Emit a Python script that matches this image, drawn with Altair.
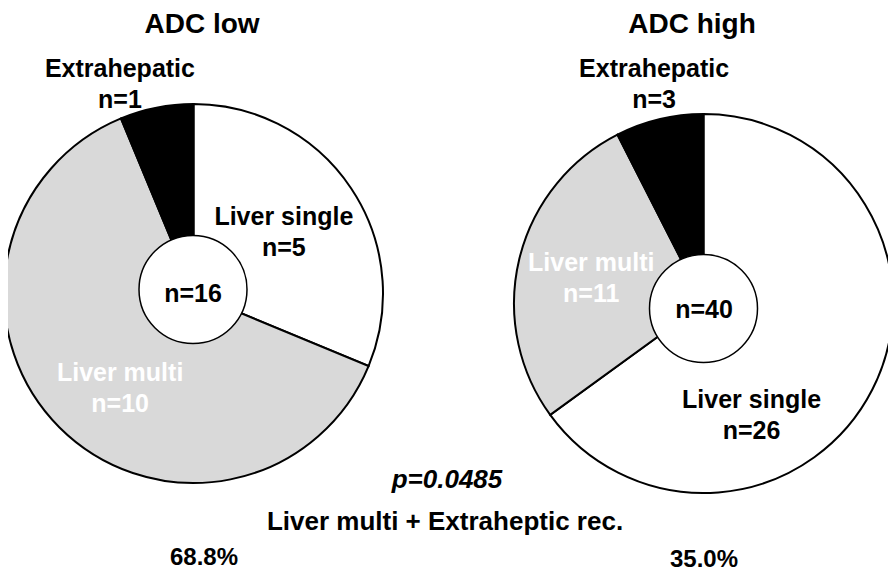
import math
import altair as alt
import pandas as pd

# ---------------- data ----------------
groups = ["ADC low", "ADC high"]
categories = ["Liver single", "Liver multi", "Extrahepatic"]
counts_low = [5, 10, 1]
counts_high = [26, 11, 3]
p_value_text = "p=0.0485"
footnote_text = "Liver multi + Extraheptic rec."

# ---------------- layout / style (page pixel coords) ----------------
PAD = 8
OFF = 8 + PAD          # page margin + chart padding
W, H = 896 - 2 * OFF, 580 - 2 * OFF
FONT = "Liberation Sans"
R_OUT = 189.5
R_IN = 54
LINE_H = 31


def P(x, y):
    return x - OFF, y - OFF


pie_center = {"ADC low": P(193.5, 293.5), "ADC high": P(703.5, 303.5)}
inner_center = {"ADC low": P(193.0, 289.5), "ADC high": P(703.5, 308.5)}
center_text_pos = {"ADC low": P(193.0, 293.5), "ADC high": P(704.0, 310.0)}
title_pos = {"ADC low": P(202.0, 25.0), "ADC high": P(692.0, 25.0)}
percent_pos = {"ADC low": P(204.0, 558.0), "ADC high": P(704.0, 560.0)}
p_pos = P(447.0, 480.0)
foot_pos = P(445.0, 522.0)

fills = {"Liver single": "#ffffff", "Liver multi": "#d9d9d9", "Extrahepatic": "#000000"}
label_colors = {"Liver single": "#000000", "Liver multi": "#ffffff", "Extrahepatic": "#000000"}
# label polar position relative to pie centre: (degrees clockwise from north, radius px)
label_polar = {
    ("ADC low", "Liver single"): (56.0, 109.0),
    ("ADC low", "Liver multi"): (217.7, 120.0),
    ("ADC low", "Extrahepatic"): (340.6, 221.5),
    ("ADC high", "Liver single"): (156.8, 122.0),
    ("ADC high", "Liver multi"): (282.5, 115.0),
    ("ADC high", "Extrahepatic"): (347.3, 224.5),
}

layers = []
for g, counts in zip(groups, [counts_low, counts_high]):
    cx, cy = pie_center[g]
    df = pd.DataFrame({
        "category": categories,
        "count": counts,
        "order": list(range(len(categories))),
    })
    df["fill"] = df["category"].map(fills)
    df["lcolor"] = df["category"].map(label_colors)
    df["label"] = [f"{c}\nn={n}" for c, n in zip(categories, counts)]
    df["lt"] = [math.radians(label_polar[(g, c)][0]) for c in categories]
    df["lr"] = [label_polar[(g, c)][1] for c in categories]

    arcs = alt.Chart(df).mark_arc(
        radius=R_OUT, stroke="black", strokeWidth=2
    ).encode(
        theta=alt.Theta("count:Q", stack=True),
        order=alt.Order("order:Q"),
        fill=alt.Fill("fill:N", scale=None),
        x=alt.value(cx),
        y=alt.value(cy),
    )

    labels = alt.Chart(df).mark_text(
        font=FONT, fontWeight="bold", fontSize=25, lineBreak="\n",
        lineHeight=LINE_H, align="center", baseline="middle", dy=-LINE_H / 2
    ).encode(
        x=alt.value(cx),
        y=alt.value(cy),
        theta=alt.Theta("lt:Q", scale=None, stack=None),
        radius=alt.Radius("lr:Q", scale=None),
        text="label:N",
        color=alt.Color("lcolor:N", scale=None),
    )

    icx, icy = inner_center[g]
    inner = alt.Chart(df.head(1)).mark_arc(
        theta=0, theta2=2 * math.pi, radius=R_IN,
        fill="white", stroke="black", strokeWidth=1.5
    ).encode(x=alt.value(icx), y=alt.value(icy))

    total = sum(counts)
    tx, ty = center_text_pos[g]
    center_txt = alt.Chart(df.head(1)).mark_text(
        font=FONT, fontWeight="bold", fontSize=25, align="center", baseline="middle",
        color="black"
    ).encode(x=alt.value(tx), y=alt.value(ty), text=alt.value(f"n={total}"))

    ttx, tty = title_pos[g]
    title = alt.Chart(df.head(1)).mark_text(
        font=FONT, fontWeight="bold", fontSize=28, align="center", baseline="middle",
        color="black"
    ).encode(x=alt.value(ttx), y=alt.value(tty), text=alt.value(g))

    pct = (counts[1] + counts[2]) / total * 100
    px, py = percent_pos[g]
    pct_txt = alt.Chart(df.head(1)).mark_text(
        font=FONT, fontWeight="bold", fontSize=24, align="center", baseline="middle",
        color="black"
    ).encode(x=alt.value(px), y=alt.value(py), text=alt.value(f"{pct:.1f}%"))

    layers += [arcs, inner, labels, center_txt, title, pct_txt]

one = pd.DataFrame({"k": [0]})
p_txt = alt.Chart(one).mark_text(
    font=FONT, fontWeight="bold", fontStyle="italic", fontSize=26,
    align="center", baseline="middle", color="black"
).encode(x=alt.value(p_pos[0]), y=alt.value(p_pos[1]), text=alt.value(p_value_text))

foot_txt = alt.Chart(one).mark_text(
    font=FONT, fontWeight="bold", fontSize=26,
    align="center", baseline="middle", color="black"
).encode(x=alt.value(foot_pos[0]), y=alt.value(foot_pos[1]), text=alt.value(footnote_text))

layers += [p_txt, foot_txt]

chart = alt.layer(*layers).properties(
    width=W, height=H,
    autosize=alt.AutoSizeParams(type="none"),
    padding=PAD,
    background="white",
).resolve_scale(theta="independent").configure_view(stroke=None)

chart.save("out.html", embed_options={"renderer": "svg", "actions": False})
